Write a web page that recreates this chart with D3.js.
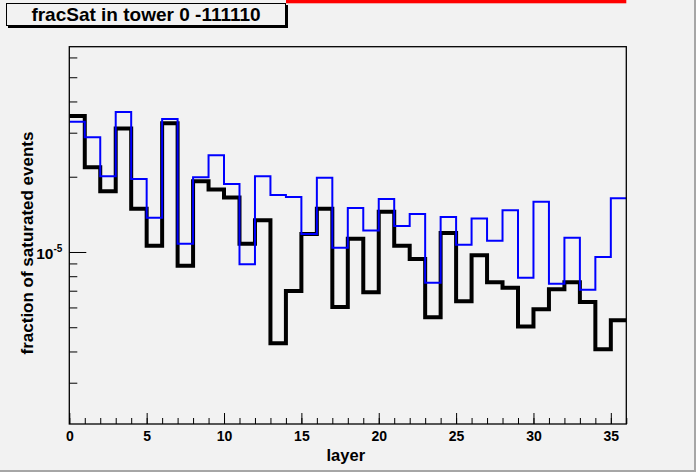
<!DOCTYPE html>
<html>
<head>
<meta charset="utf-8">
<script src="https://cdn.jsdelivr.net/npm/d3@7"></script>
<style>
  body { margin: 0; background: #f2f2f2; }
  svg { display: block; font-family: "Liberation Sans", Arial, sans-serif; }
</style>
</head>
<body>
<svg id="drawing_region"></svg>
<script>
// bin index (layer) 0..35
const layers = d3.range(36);

// black histogram (thick)
const fracSatBlack = [3.50e-5, 2.18e-5, 1.75e-5, 3.12e-5, 1.49e-5, 1.06e-5, 3.27e-5, 0.88e-5, 1.92e-5, 1.78e-5,
                      1.65e-5, 1.08e-5, 1.34e-5, 0.431e-5, 0.698e-5, 1.18e-5, 1.49e-5, 0.603e-5, 1.13e-5, 0.690e-5,
                      1.45e-5, 1.06e-5, 0.938e-5, 0.548e-5, 1.19e-5, 0.635e-5, 0.970e-5, 0.756e-5, 0.720e-5, 0.504e-5,
                      0.590e-5, 0.709e-5, 0.756e-5, 0.631e-5, 0.408e-5, 0.533e-5];

// blue histogram (thin)
const fracSatBlue = [3.32e-5, 2.88e-5, 2.01e-5, 3.63e-5, 1.96e-5, 1.37e-5, 3.40e-5, 1.08e-5, 1.99e-5, 2.44e-5,
                     1.87e-5, 0.893e-5, 2.01e-5, 1.69e-5, 1.66e-5, 1.18e-5, 1.98e-5, 1.04e-5, 1.50e-5, 1.22e-5,
                     1.63e-5, 1.27e-5, 1.42e-5, 0.754e-5, 1.38e-5, 1.07e-5, 1.36e-5, 1.11e-5, 1.47e-5, 0.789e-5,
                     1.59e-5, 0.747e-5, 1.14e-5, 0.707e-5, 0.955e-5, 1.64e-5];

const xMajorTicks = [0, 5, 10, 15, 20, 25, 30, 35];
const xMinorTicks = d3.range(0, 37);
const yMajorTicks = [1e-5];
const yMinorTicks = [3e-6, 4e-6, 5e-6, 6e-6, 7e-6, 8e-6, 9e-6, 2e-5, 3e-5, 4e-5, 5e-5, 6e-5];

const titleText = "fracSat in tower 0 -111110";
const xTitle = "layer";
const yTitle = "fraction of saturated events";

const config = {
    width: 696,
    height: 472,
    frame: { left: 69.3, right: 626.3, top: 46.7, bottom: 424 }
};

const svg = d3.select('#drawing_region')
    .attr('width', config.width)
    .attr('height', config.height);

// canvas background + bevel
svg.append('rect')
    .attr('width', config.width).attr('height', config.height)
    .attr('fill', '#f2f2f2');
svg.append('rect')
    .attr('x', config.width - 2).attr('y', 0).attr('width', 2).attr('height', config.height)
    .attr('fill', '#a6a6a6');
svg.append('rect')
    .attr('x', 0).attr('y', config.height - 2).attr('width', config.width).attr('height', 2)
    .attr('fill', '#a6a6a6');

const f = config.frame;

const xscale = d3.scaleLinear()
    .domain([0, 36])
    .range([f.left, f.right]);

const yscale = d3.scaleLog()
    .domain([2.051e-6, 6.624e-5])
    .range([f.bottom, f.top]);

// clip
svg.append('clipPath').attr('id', 'clip')
    .append('rect')
    .attr('x', f.left).attr('y', f.top)
    .attr('width', f.right - f.left).attr('height', f.bottom - f.top);

// histograms
const histLine = d3.line()
    .x(d => xscale(d[0]))
    .y(d => yscale(d[1]))
    .curve(d3.curveStepAfter);

function steps(values) {
    const pts = layers.map(i => [i, values[i]]);
    pts.push([36, values[values.length - 1]]);
    return pts;
}

const plot = svg.append('g').attr('clip-path', 'url(#clip)');

plot.append('path')
    .attr('d', histLine(steps(fracSatBlack)))
    .attr('fill', 'none')
    .attr('stroke', '#000')
    .attr('stroke-width', 4)
    .attr('stroke-linejoin', 'miter');

plot.append('path')
    .attr('d', histLine(steps(fracSatBlue)))
    .attr('fill', 'none')
    .attr('stroke', '#0000ff')
    .attr('stroke-width', 2)
    .attr('stroke-linejoin', 'miter');

// frame
svg.append('rect')
    .attr('x', f.left).attr('y', f.top)
    .attr('width', f.right - f.left).attr('height', f.bottom - f.top)
    .attr('fill', 'none')
    .attr('stroke', '#000')
    .attr('stroke-width', 1.3);

// x axis
const xMinor = d3.axisBottom(xscale).tickValues(xMinorTicks).tickSize(-6).tickFormat('');
const xMajor = d3.axisBottom(xscale).tickValues(xMajorTicks).tickSizeInner(-11).tickSizeOuter(0).tickPadding(7.5)
    .tickFormat(d3.format('d'));

svg.append('g').attr('transform', `translate(0, ${f.bottom})`).call(xMinor);
const xg = svg.append('g').attr('transform', `translate(0, ${f.bottom})`).call(xMajor);
svg.selectAll('.domain').remove();
xg.selectAll('text')
    .attr('font-size', 14).attr('font-weight', 'bold').attr('fill', '#000')
    .attr('font-family', '"Liberation Sans", Arial, sans-serif');

// y axis
const yMinor = d3.axisLeft(yscale).tickValues(yMinorTicks).tickSize(-8).tickFormat('');
const yMajor = d3.axisLeft(yscale).tickValues(yMajorTicks).tickSize(-17).tickFormat('');

svg.append('g').attr('transform', `translate(${f.left}, 0)`).call(yMinor);
svg.append('g').attr('transform', `translate(${f.left}, 0)`).call(yMajor);
svg.selectAll('.domain').remove();
svg.selectAll('.tick line').attr('stroke', '#000').attr('stroke-width', 1);

// axis titles
svg.append('text')
    .attr('x', (f.left + f.right) / 2 - 2)
    .attr('y', 461)
    .attr('text-anchor', 'middle')
    .attr('font-size', 16.5)
    .attr('font-weight', 'bold')
    .text(xTitle);

svg.append('text')
    .attr('transform', `translate(32.5, ${243}) rotate(-90)`)
    .attr('text-anchor', 'middle')
    .attr('font-size', 17)
    .attr('font-weight', 'bold')
    .text(yTitle);

const yLabel = svg.append('text')
    .attr('x', f.left - 7)
    .attr('y', yscale(1e-5) + 7)
    .attr('text-anchor', 'end')
    .attr('font-size', 15.5)
    .attr('font-weight', 'bold');
yLabel.append('tspan').text('10');
yLabel.append('tspan').attr('dy', -7).attr('font-size', 10).text('-5');

// red line at top (partly hidden box)
svg.append('rect')
    .attr('x', 286).attr('y', 0).attr('width', f.right - 286).attr('height', 3.3)
    .attr('fill', '#ff0000');

// title box
svg.append('rect')
    .attr('x', 8).attr('y', 5).attr('width', 280).attr('height', 23)
    .attr('fill', '#000');
svg.append('rect')
    .attr('x', 6.5).attr('y', 3.5).attr('width', 279).attr('height', 22)
    .attr('fill', '#f2f2f2')
    .attr('stroke', '#000')
    .attr('stroke-width', 1);
svg.append('text')
    .attr('x', 146)
    .attr('y', 21)
    .attr('text-anchor', 'middle')
    .attr('font-size', 19)
    .attr('font-weight', 'bold')
    .text(titleText);
</script>
</body>
</html>
